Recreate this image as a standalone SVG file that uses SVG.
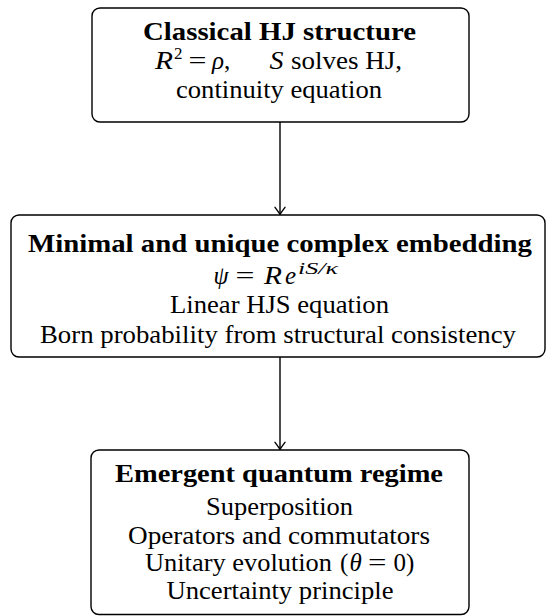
<svg xmlns="http://www.w3.org/2000/svg" width="547" height="616" viewBox="0 0 547 616">
<style>
.box{fill:#fff;stroke:#000;stroke-width:1.4}
.t{font-family:"Liberation Serif","Times New Roman",serif;font-size:25px;fill:#000;text-anchor:middle}
.b{font-weight:bold}
.m{font-family:"Liberation Serif","Times New Roman",serif;font-size:25px;fill:#000}
.i{font-style:italic}
.sup{font-size:17px}
.edge{stroke:#000;stroke-width:1.4;fill:none}
</style>
<defs>
<marker id="arr" markerWidth="12" markerHeight="12" viewBox="-10 -6 12 12" refX="0" refY="0" orient="auto" markerUnits="userSpaceOnUse">
<path d="M-7,-5 Q-2,-1.2 0,0 Q-2,1.2 -7,5" fill="none" stroke="#000" stroke-width="1.4" stroke-linecap="round"/>
</marker>
</defs>
<rect width="547" height="616" fill="#fff"/>
<g id="connectors">
<line class="edge" x1="280" y1="122" x2="280" y2="214.3" marker-end="url(#arr)"/>
<line class="edge" x1="280" y1="357" x2="280" y2="449.3" marker-end="url(#arr)"/>
</g>
<g id="node-classical">
<rect class="box" x="92" y="8" width="377" height="114" rx="8"/>
<text class="t b" x="279.5" y="40" textLength="273" lengthAdjust="spacingAndGlyphs">Classical HJ structure</text>
<text class="m" y="69"><tspan class="i" x="155" textLength="18" lengthAdjust="spacingAndGlyphs">R</tspan><tspan class="sup" x="174" dy="-10">2</tspan><tspan x="188.5" dy="10" textLength="18" lengthAdjust="spacingAndGlyphs">=</tspan><tspan class="i" x="212">ρ</tspan><tspan x="224">,</tspan><tspan class="i" x="269.5" textLength="14" lengthAdjust="spacingAndGlyphs">S</tspan><tspan x="291" textLength="111" lengthAdjust="spacingAndGlyphs">solves HJ,</tspan></text>
<text class="t" x="279" y="98" textLength="206" lengthAdjust="spacingAndGlyphs">continuity equation</text>
</g>
<g id="node-embedding">
<rect class="box" x="11" y="215" width="534" height="142" rx="8"/>
<text class="t b" x="280" y="251.5" textLength="504" lengthAdjust="spacingAndGlyphs">Minimal and unique complex embedding</text>
<text class="m" y="283.5"><tspan class="i" x="213.5" textLength="15" lengthAdjust="spacingAndGlyphs">ψ</tspan><tspan x="235.5" textLength="19" lengthAdjust="spacingAndGlyphs">=</tspan><tspan class="i" x="264" textLength="18" lengthAdjust="spacingAndGlyphs">R</tspan><tspan class="i" x="285">e</tspan><tspan class="i sup" x="298" dy="-10" textLength="40" lengthAdjust="spacingAndGlyphs">iS/κ</tspan></text>
<text class="t" x="279.5" y="313" textLength="219" lengthAdjust="spacingAndGlyphs">Linear HJS equation</text>
<text class="t" x="278" y="342.5" textLength="476" lengthAdjust="spacingAndGlyphs">Born probability from structural consistency</text>
</g>
<g id="node-quantum">
<rect class="box" x="91" y="450" width="378" height="164.5" rx="8"/>
<text class="t b" x="279" y="482" textLength="328" lengthAdjust="spacingAndGlyphs">Emergent quantum regime</text>
<text class="t" x="279.5" y="515" textLength="147" lengthAdjust="spacingAndGlyphs">Superposition</text>
<text class="t" x="279" y="543.5" textLength="302" lengthAdjust="spacingAndGlyphs">Operators and commutators</text>
<text class="m" y="571"><tspan x="145" textLength="187" lengthAdjust="spacingAndGlyphs">Unitary evolution</tspan><tspan x="340">(</tspan><tspan class="i" x="349.5">θ</tspan><tspan x="368" textLength="18.5" lengthAdjust="spacingAndGlyphs">=</tspan><tspan x="393.5">0</tspan><tspan x="406">)</tspan></text>
<text class="t" x="280" y="598.5" textLength="227" lengthAdjust="spacingAndGlyphs">Uncertainty principle</text>
</g>
</svg>
